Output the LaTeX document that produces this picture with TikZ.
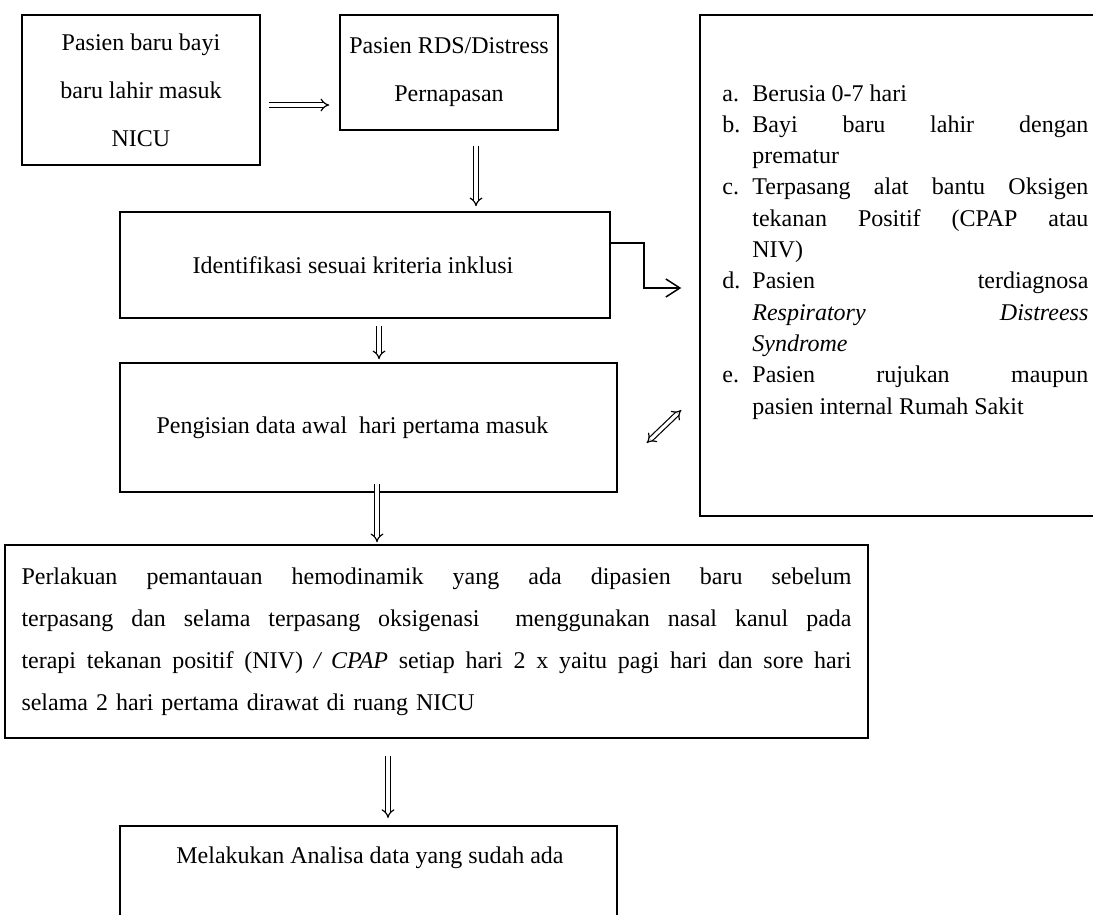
\documentclass[tikz,border=0pt]{standalone}
\usepackage{fontspec}
\setmainfont{Liberation Serif}
\usetikzlibrary{arrows.meta, positioning, calc}

% list lines of the criteria box
\newcommand{\critline}[2]{\makebox[15pt][l]{#1}\makebox[168pt][s]{#2}}
\newcommand{\critlast}[2]{\makebox[15pt][l]{#1}#2}
% justified line of the treatment box
\newcommand{\fullline}[1]{\makebox[415pt][s]{\spaceskip=0pt \xspaceskip=0pt #1}}

\begin{document}
\begin{tikzpicture}[
    x=0.5pt, y=-0.5pt,
    block/.style={rectangle, draw, line width=0.75pt, align=center, inner sep=0pt, font=\fontsize{12}{24}\selectfont},
    dline/.style={draw, double, double distance=1.6pt, line width=0.6pt, -{Implies[scale=1.3]}},
    bentline/.style={draw, line width=0.75pt, -{Straight Barb[length=7pt, width=9pt]}}
]
    \useasboundingbox (0,0) rectangle (1093,915);
    \clip (0,0) rectangle (1093,915);

    \node [block, minimum width=119pt, minimum height=75pt] (newborn) at (141,90) {Pasien baru bayi\\baru lahir masuk\\NICU};
    \node [block, minimum width=109pt, minimum height=57.5pt] (rds) at (449,72.5) {Pasien RDS/Distress\\Pernapasan};
    \node [block, minimum width=245pt, minimum height=53pt] (ident) at (365,265) {Identifikasi sesuai kriteria inklusi\hspace*{12pt}};
    \node [block, minimum width=248.5pt, minimum height=64.5pt] (isi) at (368.5,427.5) {Pengisian data awal\ \ hari pertama masuk\hspace*{16pt}};
    \node [block, minimum width=431.5pt, minimum height=96.5pt, text width=415pt, align=left, font=\fontsize{12}{21}\selectfont] (rawat) at (436.5,641.5)
        {\fullline{Perlakuan pemantauan hemodinamik yang ada dipasien baru sebelum}\\
         \fullline{terpasang dan selama terpasang oksigenasi\ \ menggunakan nasal kanul pada}\\
         \fullline{terapi tekanan positif (NIV) \textit{/ CPAP} setiap hari 2 x yaitu pagi hari dan sore hari}\\
         selama 2 hari pertama dirawat di ruang NICU};
    \node [block, minimum width=248.5pt, minimum height=52.5pt, anchor=north] (analisa) at (368.5,825) {};
    \node [font=\fontsize{12}{24}\selectfont] (analisatext) at (370,858) {Melakukan Analisa data yang sudah ada};

    % criteria box
    \node [block, minimum width=205pt, minimum height=250.5pt] (criteria) at (905,265.5) {};
    \node [anchor=north west, inner sep=0pt, align=left, font=\fontsize{12}{15.65}\selectfont] (items) at (722,84)
        {\critlast{a.}{Berusia 0-7 hari}\\
         \critline{b.}{Bayi baru lahir dengan}\\
         \critlast{}{prematur}\\
         \critline{c.}{Terpasang alat bantu Oksigen}\\
         \critline{}{tekanan Positif (CPAP atau}\\
         \critlast{}{NIV)}\\
         \critline{d.}{Pasien terdiagnosa}\\
         \critline{}{\textit{Respiratory Distreess}}\\
         \critlast{}{\textit{Syndrome}}\\
         \critline{e.}{Pasien rujukan maupun}\\
         \critlast{}{pasien internal Rumah Sakit}};

    \path [dline] ($(newborn.east)+(8,15)$) -- ($(rds.west)+(-10,32.5)$);
    \path [dline] ($(rds.south)+(27,15)$) -- ($(ident.north)+(111,-5)$);
    \path [bentline] ($(ident.east)+(0,-22)$) -- ++(33,0) |- ($(criteria.west)+(-18,22.5)$);
    \path [dline] ($(ident.south)+(14,7)$) -- ($(isi.north)+(10.5,-3)$);
    \path [dline, {Implies[scale=1.3]}-{Implies[scale=1.3]}] ($(isi.east)+(29,15.5)$) -- ($(criteria.west)+(-18,144.5)$);
    \path [dline] ($(isi.south)+(8.5,-9)$) -- ($(rawat.north)+(-59.5,-2)$);
    \path [dline] ($(rawat.south)+(-48.5,17)$) -- ($(analisa.north)+(19.5,-7)$);
\end{tikzpicture}
\end{document}
